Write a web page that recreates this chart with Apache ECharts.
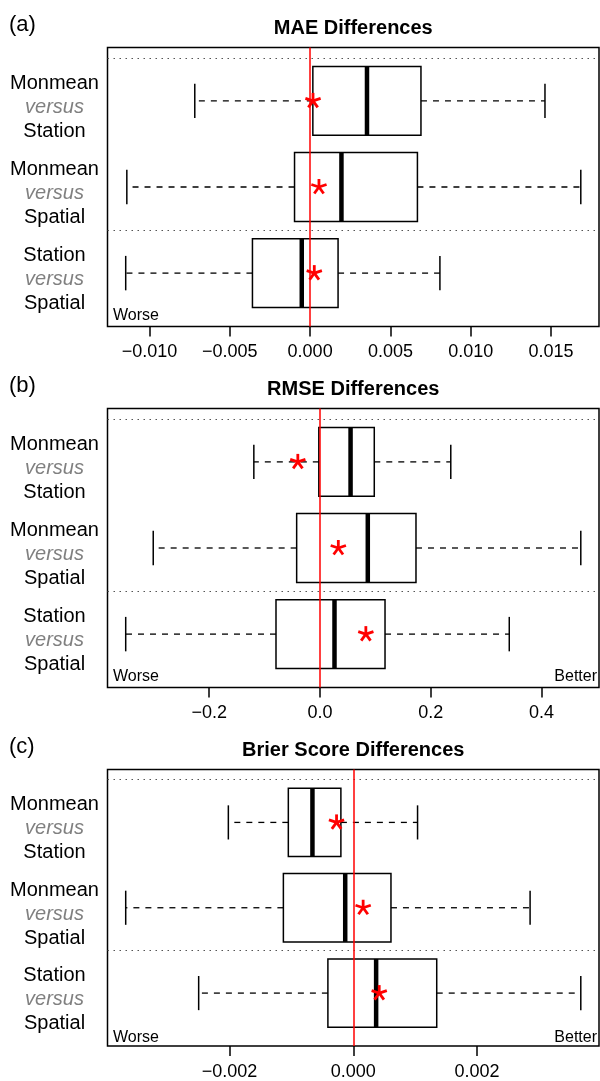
<!DOCTYPE html>
<html>
<head>
<meta charset="utf-8">
<script src="https://cdn.jsdelivr.net/npm/echarts@6/dist/echarts.min.js"></script>
<style>
html, body { margin: 0; padding: 0; background: #fff; }
#chart { width: 600px; height: 1081px; }
</style>
</head>
<body>
<div id="chart"></div>
<script>
// rows, top to bottom
var rowFirst = ['Monmean', 'Monmean', 'Station'];
var rowSecond = ['Station', 'Spatial', 'Spatial'];
var rowPos = [1, 2, 3];
var panelTitles = ['MAE Differences', 'RMSE Differences', 'Brier Score Differences'];
var panelTags = ['(a)', '(b)', '(c)'];

// whisker low, Q1, median, Q3, whisker high
var maeBoxes = [
  [-0.00718, 0.00017, 0.00354, 0.00690, 0.01462],
  [-0.01141, -0.00097, 0.00195, 0.00668, 0.01685],
  [-0.01148, -0.00359, -0.00052, 0.00174, 0.00808]
];
var maeMeans = [0.00018, 0.00055, 0.00026];

var rmseBoxes = [
  [-0.1194, -0.0021, 0.0552, 0.0980, 0.2361],
  [-0.3010, -0.0421, 0.0863, 0.1733, 0.4708],
  [-0.3507, -0.0794, 0.0262, 0.1174, 0.3417]
];
var rmseMeans = [-0.0400, 0.0331, 0.0828];

var brierBoxes = [
  [-0.00202, -0.00105, -0.00066, -0.00020, 0.00104],
  [-0.00368, -0.00113, -0.00013, 0.00061, 0.00286],
  [-0.00250, -0.00041, 0.00037, 0.00135, 0.00368]
];
var brierMeans = [-0.00027, 0.00016, 0.00042];

var maeTicks = [-0.010, -0.005, 0, 0.005, 0.010, 0.015];
var rmseTicks = [-0.2, 0, 0.2, 0.4];
var brierTicks = [-0.002, 0, 0.002];
var tickDigits = [3, 1, 3];

var panels = [
  { boxes: maeBoxes, means: maeMeans, ticks: maeTicks },
  { boxes: rmseBoxes, means: rmseMeans, ticks: rmseTicks },
  { boxes: brierBoxes, means: brierMeans, ticks: brierTicks }
];

var FONT = 'Liberation Sans, Arial, sans-serif';
var gridLeft = 107.5, gridWidth = 491.5, gridTop0 = 47.5, gridH = 279, step = 361;

// R style range: data extent padded by 4%
function xRange(boxes) {
  var lo = Math.min.apply(null, boxes.map(function (b) { return b[0]; }));
  var hi = Math.max.apply(null, boxes.map(function (b) { return b[4]; }));
  var pad = (hi - lo) * 0.04;
  return [lo - pad, hi + pad];
}

function renderBox(params, api) {
  var pos = api.value(0);
  var lo = api.coord([api.value(1), pos]);
  var q1 = api.coord([api.value(2), pos]);
  var md = api.coord([api.value(3), pos]);
  var q3 = api.coord([api.value(4), pos]);
  var hi = api.coord([api.value(5), pos]);
  var half = api.size([0, 0.4])[1];
  var cap = half / 2;
  var y = lo[1];
  var dash = { stroke: '#000', lineWidth: 1.3, lineDash: [6, 6] };
  var solid = { stroke: '#000', lineWidth: 1.5 };
  return {
    type: 'group',
    children: [
      { type: 'line', shape: { x1: q1[0], y1: y, x2: lo[0], y2: y }, style: dash },
      { type: 'line', shape: { x1: q3[0], y1: y, x2: hi[0], y2: y }, style: dash },
      { type: 'line', shape: { x1: lo[0], y1: y - cap, x2: lo[0], y2: y + cap }, style: solid },
      { type: 'line', shape: { x1: hi[0], y1: y - cap, x2: hi[0], y2: y + cap }, style: solid },
      { type: 'rect', shape: { x: q1[0], y: y - half, width: q3[0] - q1[0], height: half * 2 },
        style: { fill: null, stroke: '#000', lineWidth: 1.5 } },
      { type: 'line', shape: { x1: md[0], y1: y - half, x2: md[0], y2: y + half },
        style: { stroke: '#000', lineWidth: 4.5 } }
    ]
  };
}

// red asterisk for the mean
function renderStar(params, api) {
  var c = api.coord([api.value(0), api.value(1)]);
  var arms = [];
  for (var k = 0; k < 5; k++) {
    var a = (k * 72 - 90) * Math.PI / 180;
    arms.push({ type: 'line', shape: { x1: c[0], y1: c[1], x2: c[0] + 8 * Math.cos(a), y2: c[1] + 8 * Math.sin(a) },
      style: { stroke: '#ff0000', lineWidth: 2.8 } });
  }
  return { type: 'group', children: arms };
}

var grids = [], xAxes = [], yAxes = [], series = [], graphics = [];

panels.forEach(function (p, i) {
  var top = gridTop0 + step * i;
  var r = xRange(p.boxes);
  grids.push({ left: gridLeft, top: top, width: gridWidth, height: gridH,
    show: true, borderColor: '#000', borderWidth: 1.5, backgroundColor: 'transparent' });
  xAxes.push({
    type: 'value', gridIndex: i, min: r[0], max: r[1], position: 'bottom',
    axisLine: { show: false },
    splitLine: { show: false },
    axisTick: { show: true, inside: false, length: 10, customValues: p.ticks,
      lineStyle: { color: '#000', width: 1.5 } },
    axisLabel: { customValues: p.ticks, margin: 17, color: '#000', fontSize: 18, fontFamily: FONT,
      formatter: (function (d) {
        return function (v) { return v.toFixed(d).replace('-', '\u2212'); };
      })(tickDigits[i]) }
  });
  yAxes.push({
    type: 'value', gridIndex: i, min: 0.38, max: 3.62, inverse: true,
    axisLine: { show: false }, axisTick: { show: false }, splitLine: { show: false },
    axisLabel: {
      customValues: rowPos, align: 'center', margin: 53, padding: [13, 0, 0, 0],
      formatter: function (v) {
        var k = Math.round(v) - 1;
        return '{a|' + rowFirst[k] + '}\n{v|versus}\n{a|' + rowSecond[k] + '}';
      },
      rich: {
        a: { fontSize: 20, lineHeight: 24, color: '#000', fontFamily: FONT },
        v: { fontSize: 20, lineHeight: 24, color: '#808080', fontStyle: 'italic', fontFamily: FONT }
      }
    }
  });
  series.push({
    type: 'custom', xAxisIndex: i, yAxisIndex: i, silent: true, z: 2,
    renderItem: renderBox,
    data: p.boxes.map(function (b, k) { return [rowPos[k]].concat(b); }),
    markLine: {
      silent: true, symbol: 'none', label: { show: false }, animation: false,
      data: [
        { yAxis: 0.5, lineStyle: { color: '#555', type: [1.5, 4.5], width: 1.2 } },
        { yAxis: 2.5, lineStyle: { color: '#555', type: [1.5, 4.5], width: 1.2 } },
        { xAxis: 0, lineStyle: { color: '#ff0000', type: 'solid', width: 1.5 } }
      ]
    }
  });
  series.push({
    type: 'custom', xAxisIndex: i, yAxisIndex: i, silent: true, z: 5,
    renderItem: renderStar,
    data: p.means.map(function (m, k) { return [m, rowPos[k]]; })
  });

  graphics.push({ type: 'text', left: 9, top: top - 34, style: {
    text: panelTags[i], fontSize: 22, fontFamily: FONT, fill: '#000' } });
  graphics.push({ type: 'text', x: gridLeft + gridWidth / 2, y: top - 19.5, style: {
    text: panelTitles[i], fontSize: 20, fontWeight: 'bold', fontFamily: FONT, fill: '#000',
    align: 'center', verticalAlign: 'middle' } });
  graphics.push({ type: 'text', x: 113, y: top + gridH - 11.3, style: {
    text: 'Worse', fontSize: 16, fontFamily: FONT, fill: '#000', align: 'left', verticalAlign: 'middle' } });
  if (i > 0) {
    graphics.push({ type: 'text', x: 597, y: top + gridH - 11.3, style: {
      text: 'Better', fontSize: 16, fontFamily: FONT, fill: '#000', align: 'right', verticalAlign: 'middle' } });
  }
});

var chart = echarts.init(document.getElementById('chart'), null, { renderer: 'canvas' });
chart.setOption({
  animation: false,
  backgroundColor: '#fff',
  grid: grids,
  xAxis: xAxes,
  yAxis: yAxes,
  series: series,
  graphic: graphics
});
</script>
</body>
</html>
